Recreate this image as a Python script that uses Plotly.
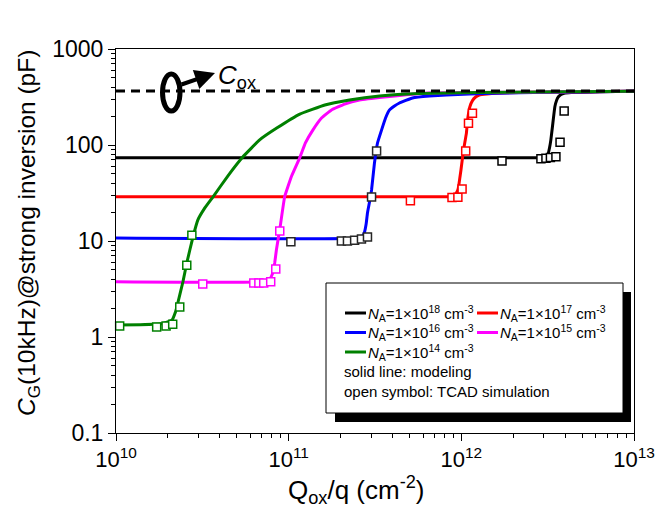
import plotly.graph_objects as go

# ---------------- data ----------------
cox = 365.0

# modeling (solid lines)
blk_x = [1e10, 2.98e12, 3.15e12, 3.24e12, 3.30e12, 3.37e12, 3.48e12, 3.56e12, 3.65e12, 3.78e12, 3.94e12, 4.33e12, 6.28e12, 1e13]
blk_y = [73.8, 73.8, 75.5, 93, 113, 155, 250, 291, 318, 336, 346, 352, 358, 362]

red_x = [1e10, 8.53e11, 8.99e11, 9.32e11, 9.51e11, 9.64e11, 9.80e11, 9.95e11, 1.03e12, 1.07e12, 1.09e12, 1.12e12, 1.16e12, 1.21e12, 1.27e12, 1.41e12, 1.59e12, 2.16e12, 4.21e12, 1e13]
red_y = [28.9, 28.9, 29.3, 31.4, 33.6, 36.8, 45.3, 55, 88.7, 133, 190, 250, 290, 316, 332, 340, 346, 352, 357, 362]

blu_x = [1e10, 2.57e11, 2.68e11, 2.75e11, 2.81e11, 2.86e11, 2.94e11, 3.02e11, 3.14e11, 3.27e11, 3.45e11, 3.64e11, 3.84e11, 4.10e11, 4.38e11, 5.21e11, 6.53e11, 8.19e11, 1.11e12, 2.16e12, 4.8e12, 1e13]
blu_y = [10.75, 10.75, 11.3, 12.4, 15.0, 19.6, 25.5, 34, 65, 105, 143, 191, 232, 255, 274, 309, 324, 332, 340, 350, 357, 362]

mag_x = [1e10, 7.46e10, 7.76e10, 8.09e10, 8.30e10, 8.49e10, 8.94e10, 9.48e10, 1.04e11, 1.16e11, 1.25e11, 1.38e11, 1.55e11, 1.77e11, 2.11e11, 2.57e11, 3.59e11, 6.53e11, 2.16e12, 1e13]
mag_y = [3.77, 3.77, 3.97, 4.64, 5.9, 8.05, 14.3, 28.9, 47.5, 73.8, 105, 143, 191, 232, 267, 294, 316, 348, 355, 362]

grn_x = [1e10, 1.38e10, 1.87e10, 2.11e10, 2.21e10, 2.28e10, 2.44e10, 2.57e10, 2.79e10, 2.98e10, 3.27e10, 3.64e10, 4.44e10, 5.42e10, 6.79e10, 8.53e10, 1.16e11, 1.62e11, 2.25e11, 3.36e11, 5.71e11, 1.27e12, 1e13]
grn_y = [1.33, 1.34, 1.38, 1.50, 1.82, 2.26, 3.74, 5.9, 11.0, 16.6, 22.1, 28.7, 47.5, 75, 113, 150, 210, 261, 294, 324, 344, 352, 362]

# TCAD simulation (open symbols)
blk_sx = [1.72e12, 2.89e12, 3.09e12, 3.28e12, 3.53e12, 3.73e12, 3.94e12]
blk_sy = [68, 72, 72.6, 74, 75.5, 107, 226]

red_sx = [5.07e11, 8.83e11, 9.55e11, 1.01e12, 1.06e12, 1.10e12, 1.16e12]
red_sy = [26.3, 28.4, 28.5, 34.8, 86.6, 168, 214]

blu_sx = [1.03e11, 2.02e11, 2.19e11, 2.41e11, 2.64e11, 2.86e11, 3.02e11, 3.23e11]
blu_sy = [9.8, 10.0, 10.0, 10.2, 10.5, 11.0, 28.7, 86.6]

mag_sx = [3.18e10, 6.28e10, 6.72e10, 7.17e10, 7.87e10, 8.42e10, 8.88e10]
mag_sy = [3.57, 3.65, 3.65, 3.65, 3.77, 5.1, 12.7]

grn_sx = [1.05e10, 1.72e10, 1.95e10, 2.13e10, 2.34e10, 2.57e10, 2.75e10]
grn_sy = [1.30, 1.27, 1.30, 1.36, 2.05, 5.6, 11.5]

x_ticks = [1e10, 1e11, 1e12, 1e13]
x_ticktext = ["10<sup>10</sup>", "10<sup>11</sup>", "10<sup>12</sup>", "10<sup>13</sup>"]
y_ticks = [0.1, 1, 10, 100, 1000]
y_ticktext = ["0.1", "1", "10", "100", "1000"]
minor_mult = [2, 3, 4, 5, 6, 7, 8, 9]

legend_labels = [
    "<i>N</i><sub>A</sub>=1×10<sup>18</sup> cm<sup>-3</sup>",
    "<i>N</i><sub>A</sub>=1×10<sup>17</sup> cm<sup>-3</sup>",
    "<i>N</i><sub>A</sub>=1×10<sup>16</sup> cm<sup>-3</sup>",
    "<i>N</i><sub>A</sub>=1×10<sup>15</sup> cm<sup>-3</sup>",
    "<i>N</i><sub>A</sub>=1×10<sup>14</sup> cm<sup>-3</sup>",
]
colors = ["#000000", "#ff0000", "#0000ff", "#ff00ff", "#008000"]
sym_colors = ["#000000", "#ff0000", "#262626", "#ff00ff", "#008000"]

# ---------------- figure ----------------
W, H = 657, 522
L, R, T, B = 116, 634, 49, 433


def px(x):
    return (x - L) / (R - L)


def py(y):
    return (B - y) / (B - T)


fig = go.Figure()

lines = [(blk_x, blk_y), (red_x, red_y), (blu_x, blu_y), (mag_x, mag_y), (grn_x, grn_y)]
syms = [(blk_sx, blk_sy), (red_sx, red_sy), (blu_sx, blu_sy), (mag_sx, mag_sy), (grn_sx, grn_sy)]

for (xs, ys), c in zip(lines, colors):
    fig.add_trace(go.Scatter(x=xs, y=ys, mode="lines",
                             line=dict(color=c, width=3, shape="spline", smoothing=0.3),
                             showlegend=False, hoverinfo="skip"))

fig.add_trace(go.Scatter(x=[1e10, 1e13], y=[cox, cox], mode="lines",
                         line=dict(color="black", width=3, dash="9px,6px"),
                         showlegend=False, hoverinfo="skip"))

for (xs, ys), c in zip(syms, sym_colors):
    fig.add_trace(go.Scatter(x=xs, y=ys, mode="markers",
                             marker=dict(symbol="square", size=8, color="white",
                                         line=dict(color=c, width=1.5)),
                             showlegend=False, hoverinfo="skip", cliponaxis=False))

shapes = []
annotations = []

# Cox marker: ellipse + arrow + label
shapes.append(dict(type="circle", xref="paper", yref="paper",
                   x0=px(162.5), x1=px(180), y0=py(111), y1=py(74),
                   line=dict(color="black", width=5)))
annotations.append(dict(xref="paper", yref="paper", x=px(215), y=py(73), text="",
                        showarrow=True, arrowhead=2, arrowsize=1, arrowwidth=4,
                        arrowcolor="black", ax=-35, ay=12))
annotations.append(dict(xref="paper", yref="paper", x=px(216), y=py(77),
                        xanchor="left", yanchor="middle", showarrow=False,
                        text="<i>C</i><sub>ox</sub>",
                        font=dict(family="Arial", size=26, color="black")))

# Custom legend box with shadow (right bar + bottom bar)
shapes.append(dict(type="rect", xref="paper", yref="paper",
                   x0=px(622), x1=px(631), y0=py(422), y1=py(292),
                   fillcolor="black", line=dict(width=0)))
shapes.append(dict(type="rect", xref="paper", yref="paper",
                   x0=px(335), x1=px(631), y0=py(422), y1=py(411),
                   fillcolor="black", line=dict(width=0)))
shapes.append(dict(type="rect", xref="paper", yref="paper",
                   x0=px(326), x1=px(623), y0=py(413), y1=py(283),
                   fillcolor="white", line=dict(color="black", width=1)))

rows = [313, 332.5, 352, 371.5, 391]
positions = [(0, 0), (1, 0), (0, 1), (1, 1), (0, 2)]
col_line = [(345, 366), (477, 498)]
col_text = [366, 498]
for (col, row), lab, c in zip(positions, legend_labels, colors):
    yy = rows[row]
    shapes.append(dict(type="line", xref="paper", yref="paper",
                       x0=px(col_line[col][0]), x1=px(col_line[col][1]),
                       y0=py(yy), y1=py(yy), line=dict(color=c, width=3)))
    annotations.append(dict(xref="paper", yref="paper", x=px(col_text[col]), y=py(yy),
                            xanchor="left", yanchor="middle", showarrow=False, text=lab,
                            font=dict(family="Arial", size=15, color="black")))
for yy, t in [(rows[3], "solid line: modeling"), (rows[4], "open symbol: TCAD simulation")]:
    annotations.append(dict(xref="paper", yref="paper", x=px(342), y=py(yy),
                            xanchor="left", yanchor="middle", showarrow=False, text=t,
                            font=dict(family="Arial", size=15, color="black")))

# Axis titles
annotations.append(dict(xref="paper", yref="paper", x=px(356), y=py(490),
                        xanchor="center", yanchor="middle", showarrow=False,
                        text="Q<sub>ox</sub>/q (cm<sup>-2</sup>)",
                        font=dict(family="Arial", size=26, color="black")))
annotations.append(dict(xref="paper", yref="paper", x=px(28), y=py(233),
                        xanchor="center", yanchor="middle", showarrow=False, textangle=-90,
                        text="<i>C</i><sub>G</sub>(10kHz)@strong inversion (pF)",
                        font=dict(family="Arial", size=24.5, color="black")))

fig.update_layout(
    width=W, height=H,
    margin=dict(l=L, r=W - R, t=T, b=H - B, autoexpand=False),
    paper_bgcolor="white", plot_bgcolor="white",
    shapes=shapes, annotations=annotations,
    font=dict(family="Arial", color="black"),
)

x_minor = [m * d for d in [1e10, 1e11, 1e12] for m in minor_mult]
y_minor = [m * d for d in [0.1, 1, 10, 100] for m in minor_mult]

fig.update_xaxes(type="log", range=[10, 13], tickmode="array", tickvals=x_ticks, ticktext=x_ticktext,
                 ticks="outside", ticklen=7, tickwidth=1, tickcolor="black",
                 showline=True, linecolor="black", linewidth=1, mirror=True,
                 showgrid=False, zeroline=False,
                 tickfont=dict(family="Arial", size=22, color="black"),
                 minor=dict(tickmode="array", tickvals=x_minor, ticks="outside", ticklen=4,
                            tickwidth=1, tickcolor="black", showgrid=False))
fig.update_yaxes(type="log", range=[-1, 3], tickmode="array", tickvals=y_ticks, ticktext=y_ticktext,
                 ticks="outside", ticklen=7, tickwidth=1, tickcolor="black",
                 showline=True, linecolor="black", linewidth=1, mirror=True,
                 showgrid=False, zeroline=False,
                 tickfont=dict(family="Arial", size=23, color="black"),
                 minor=dict(tickmode="array", tickvals=y_minor, ticks="outside", ticklen=4,
                            tickwidth=1, tickcolor="black", showgrid=False))

fig.write_html("out.html")
